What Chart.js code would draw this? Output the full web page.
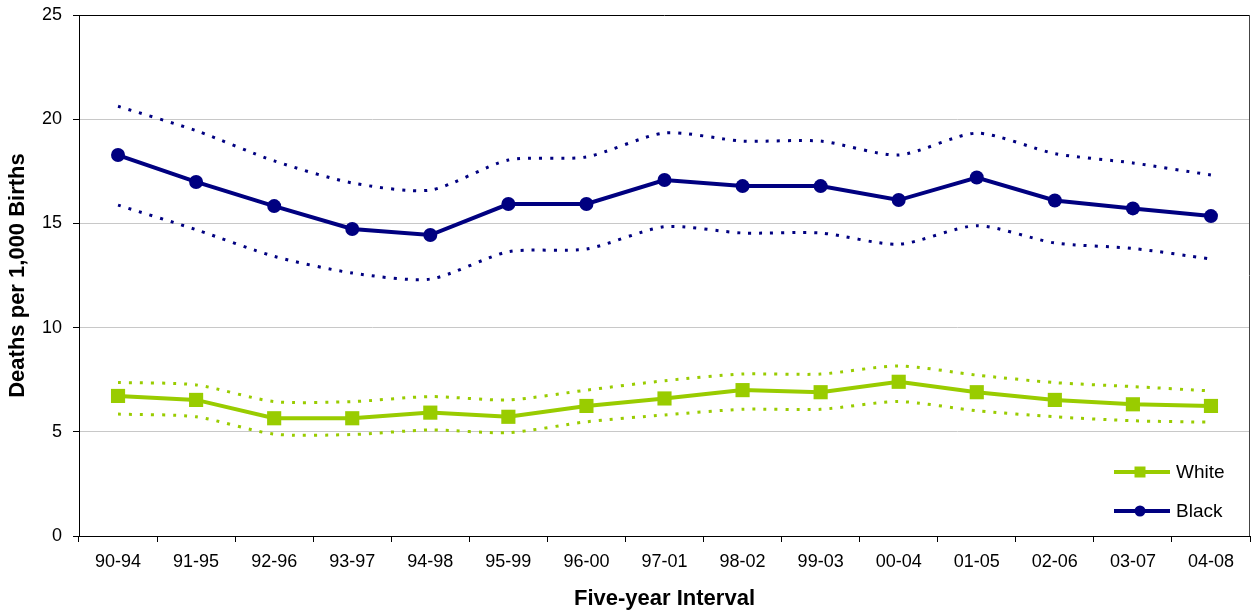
<!DOCTYPE html>
<html>
<head>
<meta charset="utf-8">
<script src="https://cdn.jsdelivr.net/npm/chart.js@4/dist/chart.umd.min.js"></script>
<style>
  html, body { margin: 0; padding: 0; background: #fff; overflow: hidden; }
  canvas { display: block; }
</style>
</head>
<body>
<canvas id="rates" width="1252" height="613"></canvas>
<script>
var categories = ['90-94', '91-95', '92-96', '93-97', '94-98', '95-99', '96-00', '97-01',
                  '98-02', '99-03', '00-04', '01-05', '02-06', '03-07', '04-08'];

var whiteRate  = [6.72, 6.53, 5.65, 5.65, 5.92, 5.72, 6.24, 6.60, 7.00, 6.90, 7.40, 6.90, 6.53, 6.32, 6.24];
var whiteUpper = [7.37, 7.25, 6.45, 6.45, 6.69, 6.53, 7.00, 7.45, 7.77, 7.77, 8.16, 7.72, 7.36, 7.17, 6.96];
var whiteLower = [5.85, 5.72, 4.89, 4.87, 5.09, 4.96, 5.48, 5.81, 6.08, 6.08, 6.45, 6.01, 5.72, 5.53, 5.46];

var blackRate  = [18.28, 16.99, 15.83, 14.73, 14.44, 15.93, 15.93, 17.08, 16.79, 16.79, 16.12, 17.20, 16.10, 15.72, 15.35];
var blackUpper = [20.62, 19.45, 18.00, 16.94, 16.60, 18.04, 18.19, 19.34, 18.95, 18.95, 18.28, 19.33, 18.35, 17.90, 17.32];
var blackLower = [15.88, 14.70, 13.42, 12.62, 12.33, 13.64, 13.77, 14.84, 14.54, 14.54, 14.00, 14.89, 14.06, 13.80, 13.29];

var yTicks = [0, 5, 10, 15, 20, 25];

var GREEN = '#99cc00';
var NAVY = '#000080';
var FONT = 'Arial, "Liberation Sans", sans-serif';

function mainLine(label, data, color, style, radius) {
    return {
        label: label,
        data: data,
        borderColor: color,
        backgroundColor: color,
        borderWidth: 4,
        pointStyle: style,
        pointRadius: radius,
        pointBorderWidth: 0,
        tension: 0,
        clip: false
    };
}

function ciLine(data, color) {
    return {
        label: '',
        data: data,
        borderColor: color,
        borderWidth: 3,
        borderDash: [3, 8],
        borderCapStyle: 'butt',
        pointRadius: 0,
        tension: 0.25,
        fill: false
    };
}

// frame round the plot area + legend inside the lower right corner
var framePlugin = {
    id: 'frame',
    afterDraw: function(chart) {
        var ctx = chart.ctx, a = chart.chartArea;
        ctx.save();
        ctx.strokeStyle = '#000';
        ctx.lineWidth = 1;
        ctx.beginPath();
        ctx.moveTo(Math.round(a.left) + 0.5, Math.round(a.top) + 0.5);
        ctx.lineTo(Math.round(a.right) - 0.5, Math.round(a.top) + 0.5);
        ctx.stroke();
        ctx.strokeStyle = '#444';
        ctx.beginPath();
        ctx.moveTo(Math.round(a.right) - 0.5, Math.round(a.top));
        ctx.lineTo(Math.round(a.right) - 0.5, Math.round(a.bottom));
        ctx.stroke();

        var items = [
            { text: 'White', color: GREEN, style: 'square' },
            { text: 'Black', color: NAVY, style: 'circle' }
        ];
        var x1 = a.right - 136, x2 = a.right - 80, mx = a.right - 110;
        items.forEach(function(it, i) {
            var y = a.bottom - 64 + i * 39;
            ctx.strokeStyle = it.color;
            ctx.fillStyle = it.color;
            ctx.lineWidth = 4;
            ctx.beginPath();
            ctx.moveTo(x1, y);
            ctx.lineTo(x2, y);
            ctx.stroke();
            ctx.beginPath();
            if (it.style === 'square') {
                ctx.rect(mx - 5.5, y - 5.5, 11, 11);
            } else {
                ctx.arc(mx, y, 5.5, 0, Math.PI * 2);
            }
            ctx.fill();
            ctx.fillStyle = '#000';
            ctx.font = '19px ' + FONT;
            ctx.textBaseline = 'middle';
            ctx.textAlign = 'left';
            ctx.fillText(it.text, x2 + 6, y + 1);
        });
        ctx.restore();
    }
};

var ctx = document.getElementById('rates').getContext('2d');

var rateChart = new Chart(ctx, {
    type: 'line',
    data: {
        labels: categories,
        datasets: [
            mainLine('Black', blackRate, NAVY, 'circle', 7),
            mainLine('White', whiteRate, GREEN, 'rect', 10),
            ciLine(blackUpper, NAVY),
            ciLine(blackLower, NAVY),
            ciLine(whiteUpper, GREEN),
            ciLine(whiteLower, GREEN)
        ]
    },
    options: {
        responsive: false,
        animation: false,
        devicePixelRatio: 1,
        layout: { autoPadding: false, padding: { top: 15, right: 2, left: 0, bottom: 0 } },
        plugins: {
            legend: { display: false },
            tooltip: { enabled: false }
        },
        scales: {
            x: {
                offset: true,
                grid: {
                    offset: true,
                    drawOnChartArea: false,
                    drawTicks: true,
                    tickLength: 6,
                    tickColor: '#000'
                },
                border: { display: true, color: '#000', width: 1 },
                ticks: {
                    color: '#000',
                    padding: 9,
                    maxRotation: 0,
                    autoSkip: false,
                    font: { family: FONT, size: 18 }
                },
                title: {
                    display: true,
                    text: 'Five-year Interval',
                    color: '#000',
                    font: { family: FONT, size: 22, weight: 'bold' },
                    padding: { top: 0, bottom: 1 }
                },
                afterFit: function(scale) {
                    scale.height = 77;
                    scale.paddingLeft = 0;
                    scale.paddingRight = 0;
                }
            },
            y: {
                min: 0,
                max: 25,
                afterBuildTicks: function(scale) {
                    scale.ticks = yTicks.map(function(v) { return { value: v }; });
                },
                grid: {
                    color: function(c) {
                        var v = c.tick ? c.tick.value : 0;
                        return (v === 0 || v === 25) ? 'rgba(0,0,0,0)' : '#c8c8c8';
                    },
                    lineWidth: 1,
                    tickLength: 6,
                    tickColor: '#000'
                },
                border: { display: true, color: '#000', width: 1 },
                ticks: {
                    color: '#000',
                    padding: 11,
                    font: { family: FONT, size: 18 }
                },
                title: {
                    display: true,
                    text: 'Deaths per 1,000 Births',
                    color: '#000',
                    font: { family: FONT, size: 22, weight: 'bold' },
                    padding: { top: 5, bottom: 0 }
                },
                afterFit: function(scale) {
                    scale.width = 79;
                    scale.paddingTop = 0;
                    scale.paddingBottom = 0;
                }
            }
        }
    },
    plugins: [framePlugin]
});
</script>
</body>
</html>
